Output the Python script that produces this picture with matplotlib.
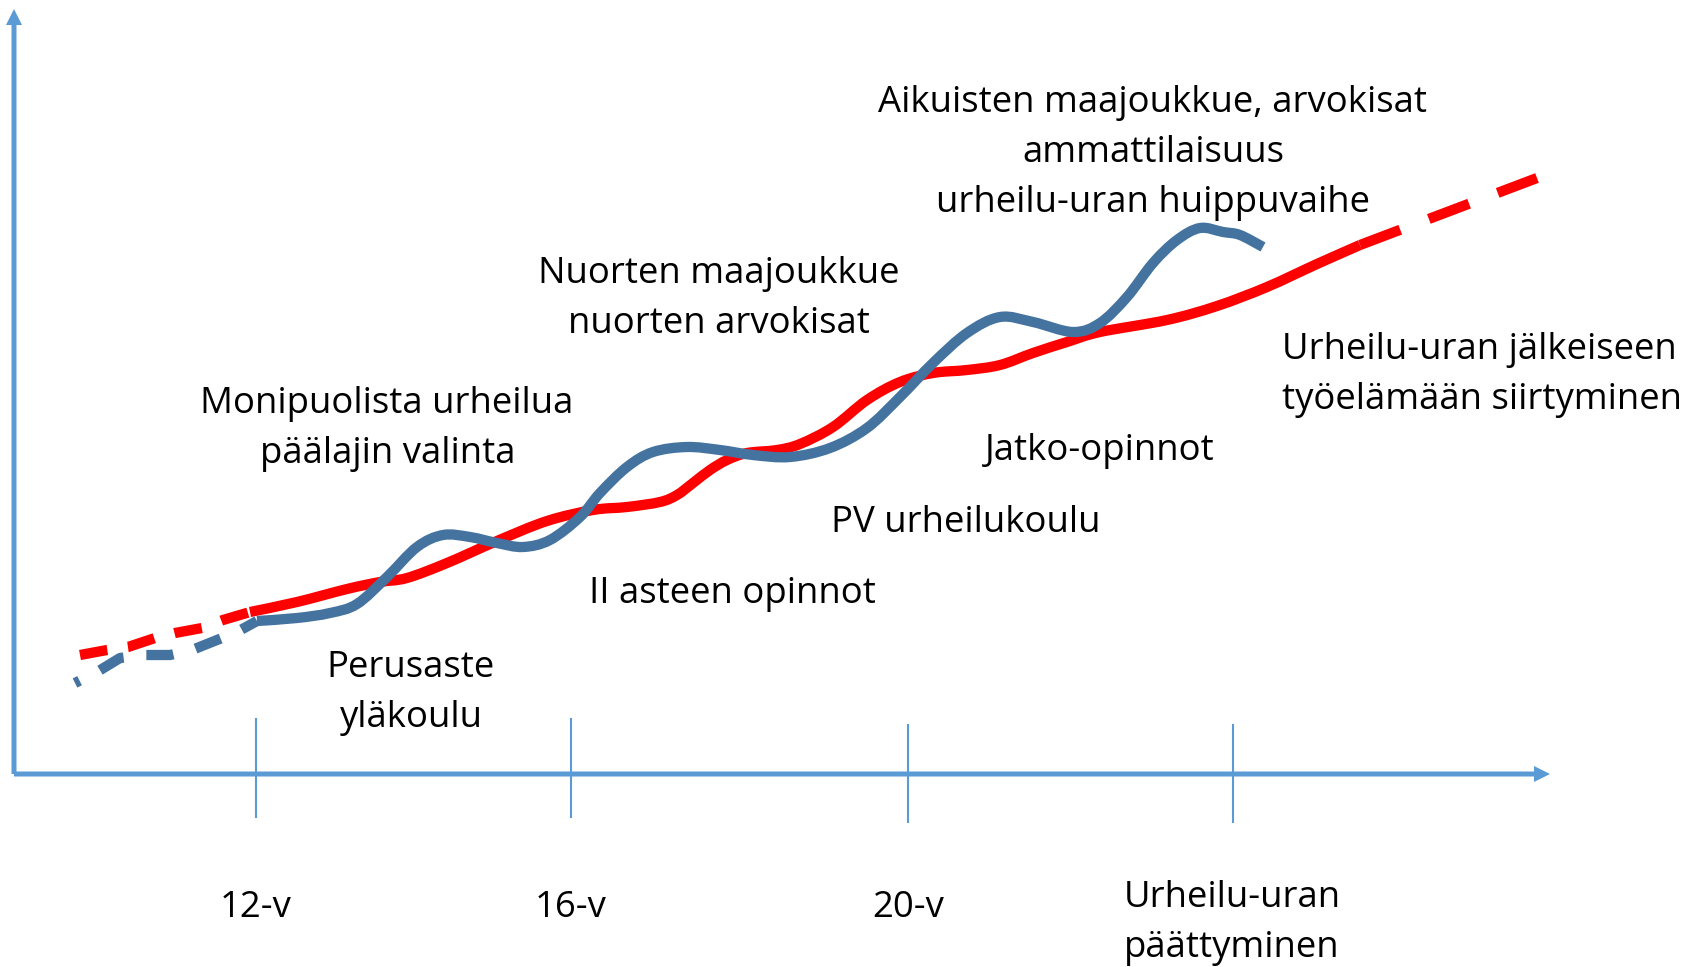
import matplotlib
matplotlib.use("Agg")
import matplotlib.pyplot as plt
from matplotlib.path import Path
from matplotlib.patches import PathPatch

# ======================
# Canvas (pixel space, y grows downward)
# ======================
W, H = 1699, 967
axis_color = "#5B9BD5"
blue = "#4573A0"
red = "#FF0000"

# ======================
# Axes and ticks
# ======================
axis_origin = (14, 774)
y_arrow_tip = 9
x_arrow_tip = 1550
tick_x = [256, 571, 908, 1233]
tick_top = [718, 718, 724, 724]
tick_bottom = [818, 818, 823, 823]

# ======================
# Red line
# ======================
red_start_x = [80, 107, 128, 155, 175, 202, 223, 250]
red_start_y = [655, 650, 647, 638, 633, 628, 620, 612]

red_x = [250, 297, 347, 380, 407, 447, 497, 547, 593, 627, 660, 677, 693,
         710, 727, 747, 777, 800, 833, 867, 900, 933, 967, 1000, 1033, 1067,
         1100, 1167, 1217, 1267, 1317, 1360]
red_y = [612, 602, 589, 582, 578, 563, 541, 521, 510, 507, 502, 495, 483,
         470, 460, 453, 450, 444, 427, 400, 382, 373, 370, 365, 353, 342,
         332, 320, 306, 287, 264, 245]

red_end_x = [1360, 1537]
red_end_y = [245, 178]

# ======================
# Blue line
# ======================
blue_start_x = [75, 97, 120, 143, 170, 192, 217, 237, 257]
blue_start_y = [683, 672, 658, 655, 655, 650, 640, 632, 621]

blue_x = [257, 297, 330, 357, 387, 417, 443, 470, 497, 523, 550, 580, 600,
          627, 653, 687, 720, 753, 790, 830, 867, 900, 933, 967, 1000,
          1033, 1073, 1100, 1127, 1153, 1177, 1200, 1223, 1240, 1263]
blue_y = [621, 618, 613, 604, 577, 547, 535, 537, 543, 547, 540, 517, 493,
          467, 452, 447, 450, 455, 457, 448, 428, 397, 363, 333, 317,
          322, 332, 323, 297, 263, 240, 228, 232, 235, 247]

# ======================
# Text lines: (text, x, baseline, align)
# ======================
labels = [
    ("Aikuisten maajoukkue, arvokisat", 1153, 112, "center"),
    ("ammattilaisuus", 1153, 162, "center"),
    ("urheilu-uran huippuvaihe", 1153, 212, "center"),
    ("Nuorten maajoukkue", 719, 283, "center"),
    ("nuorten arvokisat", 719, 333, "center"),
    ("Monipuolista urheilua", 387, 413, "center"),
    ("päälajin valinta", 388, 463, "center"),
    ("Perusaste", 411, 677, "center"),
    ("yläkoulu", 411, 727, "center"),
    ("II asteen opinnot", 732, 603, "center"),
    ("PV urheilukoulu", 966, 532, "center"),
    ("Jatko-opinnot", 1100, 460, "center"),
    ("Urheilu-uran jälkeiseen", 1282, 359, "left"),
    ("työelämään siirtyminen", 1282, 409, "left"),
    ("12-v", 256, 917, "center"),
    ("16-v", 571, 917, "center"),
    ("20-v", 908, 917, "center"),
    ("Urheilu-uran", 1232, 907, "center"),
    ("päättyminen", 1232, 957, "center"),
]


def smooth_path(xs, ys):
    # smoothed-line rendering (Catmull-Rom as cubic Bezier) through the read points
    pts = list(zip(xs, ys))
    verts = [pts[0]]
    codes = [Path.MOVETO]
    n = len(pts)
    for i in range(n - 1):
        p0 = pts[max(i - 1, 0)]
        p1 = pts[i]
        p2 = pts[i + 1]
        p3 = pts[min(i + 2, n - 1)]
        c1 = (p1[0] + (p2[0] - p0[0]) / 6, p1[1] + (p2[1] - p0[1]) / 6)
        c2 = (p2[0] - (p3[0] - p1[0]) / 6, p2[1] - (p3[1] - p1[1]) / 6)
        verts += [c1, c2, p2]
        codes += [Path.CURVE4] * 3
    return Path(verts, codes)


# ======================
# Plot
# ======================
plt.rcParams["font.family"] = ["Open Sans", "DejaVu Sans"]
plt.rcParams["lines.scale_dashes"] = False

fig = plt.figure(figsize=(W / 100, H / 100), dpi=100)
ax = fig.add_axes([0, 0, 1, 1])
ax.set_xlim(0, W)
ax.set_ylim(H, 0)
ax.axis("off")

ox, oy = axis_origin
ax.arrow(ox, oy, 0, y_arrow_tip - oy, width=5, head_width=16, head_length=16,
         length_includes_head=True, color=axis_color, lw=0)
ax.arrow(ox, oy, x_arrow_tip - ox, 0, width=5, head_width=16, head_length=16,
         length_includes_head=True, color=axis_color, lw=0)
ax.vlines(tick_x, tick_top, tick_bottom, color=axis_color, lw=1.5)

lw = 7.4
ax.plot(red_start_x, red_start_y, color=red, lw=lw, linestyle=(0, (20, 15)),
        dash_capstyle="butt")
ax.add_patch(PathPatch(smooth_path(red_x, red_y), fill=False, edgecolor=red,
                       lw=lw, capstyle="butt", joinstyle="round"))
ax.plot(red_end_x, red_end_y, color=red, lw=lw, linestyle=(0, (31, 22)),
        dash_capstyle="butt")

ax.plot(blue_start_x, blue_start_y, color=blue, lw=lw,
        linestyle=(15.8, (19.5, 16.5)), dash_capstyle="butt")
ax.add_patch(PathPatch(smooth_path(blue_x, blue_y), fill=False, edgecolor=blue,
                       lw=lw, capstyle="butt", joinstyle="round"))

for txt, x, yb, ha in labels:
    ax.text(x, yb, txt, ha=ha, va="baseline", fontsize=26.3, color="black")

fig.savefig("out.png", dpi=100)
